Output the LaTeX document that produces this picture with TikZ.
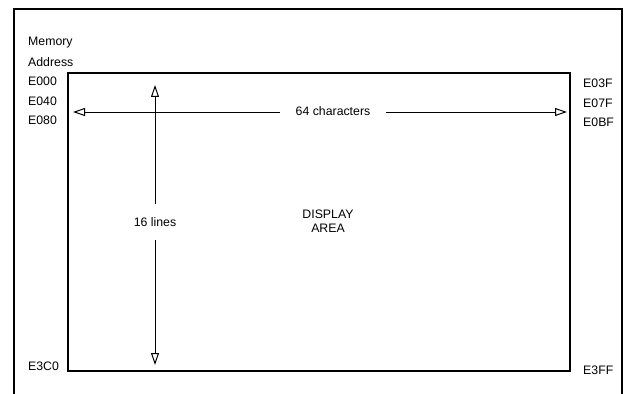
\documentclass[tikz,border=0pt]{standalone}
\usepackage{fontspec}
\setmainfont{Liberation Sans}
\usetikzlibrary{arrows.meta}
\begin{document}
\begin{tikzpicture}[x=1pt, y=-1pt, >={Triangle[open, length=12pt, width=8pt, line width=1pt]},
  addr/.style={font=\fontsize{12.3}{14}\selectfont, inner sep=0pt, anchor=west}]
  \useasboundingbox (0,0) rectangle (628,393);
  \draw[line width=2pt] (14,396) -- (14,9) -- (622,9) -- (622,396);
  \draw[line width=1.2pt] (68,73) rectangle (570,371);

  % addresses
  \node[addr] (mem)  at (28,43)  {Memory};
  \node[addr] (adr)  at (28,62)  {Address};
  \node[addr] (e000) at (28,81)  {E000};
  \node[addr] (e040) at (28,101) {E040};
  \node[addr] (e080) at (28,120) {E080};
  \node[addr] (e3c0) at (28,366) {E3C0};
  \node[addr] (e03f) at (583,83)  {E03F};
  \node[addr] (e07f) at (583,103) {E07F};
  \node[addr] (e0bf) at (583,122) {E0BF};
  \node[addr] (e3ff) at (583,370) {E3FF};

  % arrows
  \node[addr, anchor=center, inner xsep=16pt] (chars) at (333,111) {64 characters};
  \coordinate (cleft) at (73,112);
  \coordinate (cright) at (567,112);
  \draw[->, line width=0.9pt] (chars.west |- cleft) -- (cleft);
  \draw[->, line width=0.9pt] (chars.east |- cright) -- (cright);

  \node[addr, anchor=center, inner ysep=13pt] (lines) at (155,222) {16 lines};
  \coordinate (ltop) at (155,85);
  \coordinate (lbot) at (155,365);
  \draw[->, line width=0.9pt] (lines.north) -- (ltop);
  \draw[->, line width=0.9pt] (lines.south) -- (lbot);

  \node[addr, anchor=center, align=center] (disp) at (328,221) {DISPLAY\\AREA};
\end{tikzpicture}
\end{document}
